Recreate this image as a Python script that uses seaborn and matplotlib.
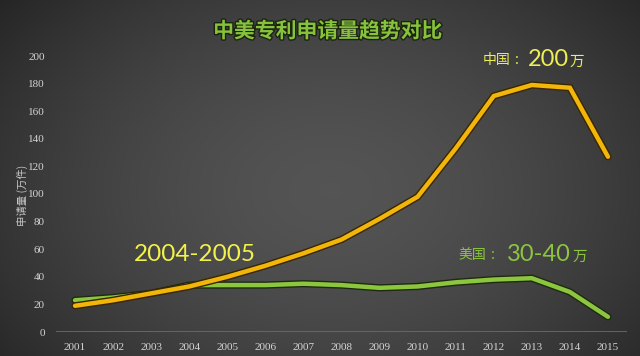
import numpy as np
import pandas as pd
import matplotlib
matplotlib.use("Agg")
import matplotlib.pyplot as plt
import matplotlib.patheffects as pe
import seaborn as sns

years = list(range(2001, 2016))
china = [19, 23, 28, 33, 40, 48, 57, 67, 82, 98, 133, 171, 179, 177, 127]
usa = [23, 25, 28, 34, 34, 34, 35, 34, 32, 33, 36, 38, 39, 29, 11]
yticks = list(range(0, 201, 20))

title = "中美专利申请量趋势对比"
ylabel = "申请量 (万件)"

sns.set_theme(style="white")
plt.rcParams["font.family"] = ["Noto Sans CJK SC", "DejaVu Sans"]

W, H = 640, 356
fig = plt.figure(figsize=(W / 100, H / 100), dpi=100)

# background radial gradient
bg = fig.add_axes([0, 0, 1, 1], zorder=0)
yy, xx = np.mgrid[0:H, 0:W]
cx, cy = 330, 190
r = np.sqrt(((xx - cx) / 420.0) ** 2 + ((yy - cy) / 300.0) ** 2)
val = 0.33 - 0.18 * np.clip(r, 0, 1.2) ** 1.6
img = np.dstack([val, val, val])
bg.imshow(np.clip(img, 0, 1), aspect="auto", extent=[0, 1, 0, 1])
bg.axis("off")

ax = fig.add_axes([56 / W, 1 - 332 / H, (627 - 56) / W, (332 - 56) / H], zorder=1)
ax.patch.set_alpha(0)

df = pd.DataFrame({"year": years * 2,
                   "value": usa + china,
                   "country": ["美国"] * len(years) + ["中国"] * len(years)})

sns.lineplot(data=df, x="year", y="value", hue="country",
             palette={"美国": "#8cc63f", "中国": "#f2b50a"},
             linewidth=3.2, legend=False, ax=ax, sort=False)
lines = ax.get_lines()
for ln, dark in zip(lines, ["#1e2a10", "#3a2600"]):
    ln.set_path_effects([pe.Stroke(linewidth=5.2, foreground=dark), pe.Normal()])
    ln.set_solid_capstyle("round")
    ln.set_solid_joinstyle("miter")
lines[1].set_zorder(3)
lines[0].set_zorder(2)

ax.set_xlim(years[0] - 0.5, years[-1] + 0.5)
ax.set_ylim(0, 200)
ax.set_xticks(years)
ax.set_xticklabels([str(y) for y in years])
ax.set_yticks(yticks)
ax.set_yticklabels([str(v) for v in yticks])
for s in ax.spines.values():
    s.set_visible(False)
ax.axhline(0, color="#6c6c6c", lw=1.2, zorder=1)
ax.tick_params(axis="both", length=0, colors="#d4d4d4", labelsize=8)
ax.tick_params(axis="x", pad=8)
ax.tick_params(axis="y", pad=8)
for lab in ax.get_xticklabels() + ax.get_yticklabels():
    lab.set_fontfamily(["Liberation Serif", "DejaVu Serif"])
ax.set_xlabel("")
ax.set_ylabel("")
ax.grid(False)

fig.text(22 / W, 1 - 195 / H, ylabel, rotation=90, ha="center", va="center",
         fontsize=7.5, color="#c8c8c8")

t = fig.text(328 / W, 1 - 31 / H, title, ha="center", va="center",
             fontsize=15, fontweight="bold", color="#86c23c")
t.set_path_effects([pe.withStroke(linewidth=2, foreground="#1c2410")])

def px(x, y):
    return x / W, 1 - y / H

yellow = "#eeee55"
green = "#8cc63f"
fs = dict(family=["Noto Sans CJK SC", "DejaVu Sans"])
# China annotation
fig.text(*px(483, 64), "中国", fontsize=10, color=yellow, va="baseline", ha="left", **fs)
fig.text(*px(517, 64), ":", fontsize=10, color=yellow, va="baseline", ha="center", **fs)
fig.text(*px(528, 66), "200", fontsize=17, color=yellow, va="baseline", ha="left", family="Lato")
fig.text(*px(570, 66), "万", fontsize=10.5, color=yellow, va="baseline", ha="left", **fs)
# 2004-2005
fig.text(*px(134, 261), "2004-2005", fontsize=17.5, color="#f2f24a", va="baseline", ha="left", family="Lato")
# US annotation
fig.text(*px(458, 259), "美国", fontsize=10, color=green, va="baseline", ha="left", **fs)
fig.text(*px(493, 259), ":", fontsize=10, color=green, va="baseline", ha="center", **fs)
fig.text(*px(507, 261), "30-40", fontsize=17, color=green, va="baseline", ha="left", family="Lato")
fig.text(*px(573, 261), "万", fontsize=10.5, color=green, va="baseline", ha="left", **fs)

fig.savefig("out.png", dpi=100)
